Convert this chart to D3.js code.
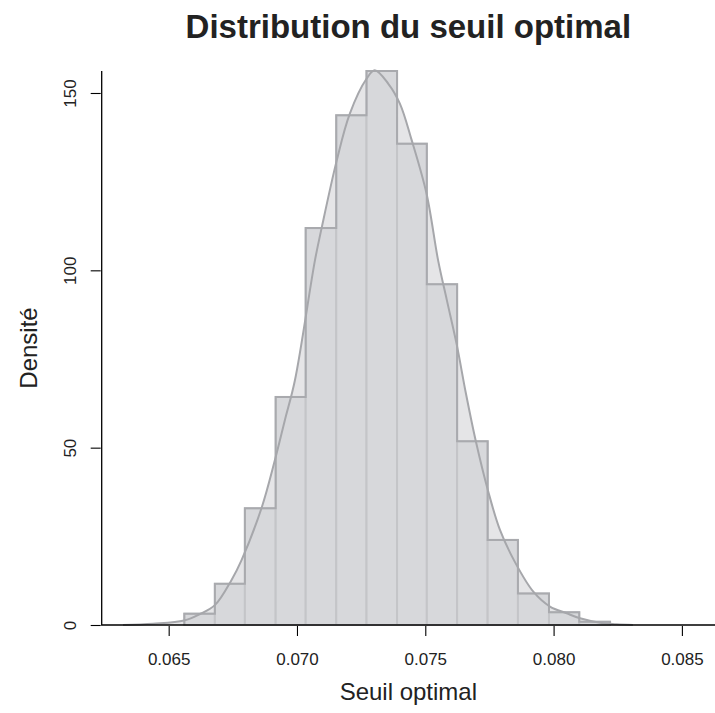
<!DOCTYPE html>
<html>
<head>
<meta charset="utf-8">
<script src="https://cdn.jsdelivr.net/npm/d3@7"></script>
<style>
  html, body { margin: 0; padding: 0; background: #fff; }
  svg { display: block; font-family: "Liberation Sans", Arial, Helvetica, sans-serif; }
</style>
</head>
<body>
<svg id="chart" width="715" height="713"></svg>
<script>
// Histogram bin edges (seuil) and densities per bin
const binEdges = [0.06561, 0.06680, 0.06797, 0.06917, 0.07034, 0.07153, 0.07271,
                  0.07390, 0.07506, 0.07624, 0.07743, 0.07861, 0.07982, 0.08100, 0.08220];
const binDensity = [3.2, 11.6, 32.9, 64.3, 111.9, 143.7, 156.2, 135.7, 96.1, 51.8, 24.0, 8.9, 3.6, 0.9];

// Kernel density estimate, sampled along the seuil axis
const kdeX = [0.06322, 0.06439, 0.06560, 0.06622, 0.06680, 0.06745, 0.06784, 0.06862,
              0.06914, 0.06953, 0.06992, 0.07070, 0.07096, 0.07155, 0.07206, 0.07271,
              0.07303, 0.07356, 0.07401, 0.07447, 0.07505, 0.07550, 0.07584, 0.07623,
              0.07658, 0.07697, 0.07744, 0.07791, 0.07849, 0.07921, 0.07986, 0.08051,
              0.08103, 0.08181, 0.08246, 0.08309];
const kdeY = [0.0, 0.37, 1.27, 3.1, 5.6, 12.7, 18.3, 33.0,
              46.5, 57.8, 69.0, 102.8, 111.9, 131.0, 144.2, 154.0,
              156.4, 152.6, 147.0, 136.7, 121.6, 102.8, 91.6, 78.9,
              65.4, 51.8, 38.0, 26.8, 17.8, 9.4, 5.2, 3.3,
              1.9, 0.65, 0.2, 0.0];

const xTicks = [0.065, 0.070, 0.075, 0.080, 0.085];
const yTicks = [0, 50, 100, 150];

const titleText = "Distribution du seuil optimal";
const xLabel = "Seuil optimal";
const yLabel = "Densité";

const svg = d3.select("#chart");
const mLeft = 101.7, mRight = 715, mTop = 71, mBottom = 625;

const x = d3.scaleLinear().domain([0.06239, 0.08629]).range([mLeft, mRight]);
const y = d3.scaleLinear().domain([0, 156.2]).range([mBottom, mTop]);

const bins = binDensity.map((d, i) => ({ x0: binEdges[i], x1: binEdges[i + 1], d }));
const kde = kdeX.map((v, i) => [v, kdeY[i]]);

// Density area (light fill)
svg.append("path")
  .datum(kde)
  .attr("d", d3.area().x(d => x(d[0])).y0(y(0)).y1(d => y(d[1])).curve(d3.curveCatmullRom))
  .attr("fill", "#e5e5e7");

// Histogram bars
svg.append("g").selectAll("rect")
  .data(bins)
  .join("rect")
  .attr("x", d => x(d.x0))
  .attr("y", d => y(d.d))
  .attr("width", d => x(d.x1) - x(d.x0))
  .attr("height", d => y(0) - y(d.d))
  .attr("fill", "#d7d8db")
  .attr("stroke", "#c4c5c8")
  .attr("stroke-width", 2);

// Outer step outline of the histogram
const step = [];
bins.forEach(b => { step.push([b.x0, b.d]); step.push([b.x1, b.d]); });
step.unshift([bins[0].x0, 0]);
step.push([bins[bins.length - 1].x1, 0]);
svg.append("path")
  .datum(step)
  .attr("d", d3.line().x(d => x(d[0])).y(d => y(d[1])))
  .attr("fill", "none")
  .attr("stroke", "#a9aaae")
  .attr("stroke-width", 2);

// Density curve
svg.append("path")
  .datum(kde)
  .attr("d", d3.line().x(d => x(d[0])).y(d => y(d[1])).curve(d3.curveCatmullRom))
  .attr("fill", "none")
  .attr("stroke", "#a6a7ab")
  .attr("stroke-width", 2);

// L-shaped frame
svg.append("path")
  .attr("d", `M${mLeft},${mTop}V${mBottom}H${mRight}`)
  .attr("fill", "none")
  .attr("stroke", "#000")
  .attr("stroke-width", 1.3);

// X axis
const xAxis = svg.append("g")
  .attr("transform", `translate(0,${mBottom + 1})`)
  .call(d3.axisBottom(x).tickValues(xTicks).tickFormat(d3.format(".3f")).tickSize(10).tickPadding(17));
xAxis.select(".domain").remove();
xAxis.selectAll("line").attr("stroke", "#000").attr("stroke-width", 1.1);
xAxis.selectAll("text").attr("font-size", 17).attr("fill", "#222").attr("font-family", "Liberation Sans, Arial, sans-serif");

// Y axis
const yAxis = svg.append("g")
  .attr("transform", `translate(${mLeft - 1},0)`)
  .call(d3.axisLeft(y).tickValues(yTicks).tickSize(10).tickPadding(0));
yAxis.select(".domain").remove();
yAxis.selectAll("line").attr("stroke", "#000").attr("stroke-width", 1.1);
yAxis.selectAll("text")
  .attr("font-size", 17).attr("fill", "#222")
  .attr("font-family", "Liberation Sans, Arial, sans-serif")
  .attr("text-anchor", "middle")
  .attr("x", null)
  .attr("transform", "translate(-31,0) rotate(-90)")
  .attr("dy", "0.35em");

// Title and axis labels
const cx = (mLeft + mRight) / 2;
svg.append("text")
  .attr("x", cx).attr("y", 38)
  .attr("text-anchor", "middle")
  .attr("font-size", 33).attr("font-weight", "bold").attr("fill", "#222")
  .text(titleText);

svg.append("text")
  .attr("x", cx).attr("y", 700)
  .attr("text-anchor", "middle")
  .attr("font-size", 24).attr("fill", "#222")
  .text(xLabel);

svg.append("text")
  .attr("transform", `translate(37,${(mTop + mBottom) / 2}) rotate(-90)`)
  .attr("text-anchor", "middle")
  .attr("font-size", 24).attr("fill", "#222")
  .text(yLabel);
</script>
</body>
</html>
